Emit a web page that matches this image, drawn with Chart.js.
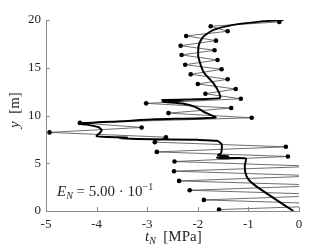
<!DOCTYPE html>
<html>
<head>
<meta charset="utf-8">
<script src="https://cdn.jsdelivr.net/npm/chart.js@4.4.1/dist/chart.umd.min.js"></script>
<style>
  body { margin: 0; background: #fff; }
  canvas { display: block; }
</style>
</head>
<body>
<canvas id="chart" width="332" height="249"></canvas>
<script>
// element traction values (dots + thin zigzag)
const zigY = [0.15, 0.65, 1.16, 1.68, 2.17, 2.68, 3.15, 3.68, 4.17, 4.68,
    5.18, 5.71, 6.19, 6.72, 7.21, 7.73, 8.23, 8.75, 9.23, 9.76,
    10.25, 10.78, 11.27, 11.75, 12.28, 12.77, 13.3, 13.79, 14.31, 14.84,
    15.32, 15.81, 16.34, 16.83, 17.31, 17.84, 18.33, 18.82, 19.35, 19.8];
const zigT = [-1.58, 1.2, -1.88, 0.85, -2.16, 0.6, -2.37, 0.42, -2.47, 0.35,
    -2.46, -0.22, -2.81, -0.26, -2.85, -2.63, -4.93, -3.11, -4.33, -0.935,
    -2.58, -1.34, -3.02, -1.15, -1.85, -1.25, -2.0, -1.41, -2.14, -1.53,
    -2.25, -1.61, -2.32, -1.67, -2.34, -1.64, -2.23, -1.41, -1.745, -0.39];

// smoothed traction (thick curve)
const curveY = [0.0, 1.35, 2.6, 3.3, 4.0, 4.8, 5.5, 5.53, 5.6, 5.72, 5.85, 6.0, 6.3, 7.0, 7.35, 7.45,
    7.55, 7.65, 7.7, 7.75, 7.85, 8.2, 8.5, 8.8, 9.05, 9.15, 9.4, 9.6, 9.8,
    10.3, 10.9, 11.25, 11.45, 11.55, 11.62, 11.7, 11.85, 12.4, 13.37, 14.59,
    16.16, 17.39, 18.26, 18.96, 19.49, 19.83, 20.0];
const curveT = [-0.11, -0.5, -0.85, -1.0, -1.06, -1.07, -1.05, -1.45, -1.62, -1.4, -1.6, -1.55, -1.53, -1.53, -1.62, -2.0,
    -3.2, -3.55, -3.4, -3.77, -4.0, -3.93, -3.9, -3.97, -4.2, -4.35, -3.5, -2.85, -1.65,
    -1.85, -2.05, -2.3, -2.7, -2.3, -2.7, -2.0, -1.56, -1.58, -1.69, -1.89,
    -1.99, -1.98, -1.89, -1.69, -1.30, -0.77, -0.31];

const xTicks = [-5, -4, -3, -2, -1, 0];
const yTicks = [0, 5, 10, 15, 20];

const serif = '"Liberation Serif", "DejaVu Serif", serif';
const axisColor = '#8a8a8a';
const textColor = '#262626';

function toPoints(xs, ys) {
    return xs.map((x, i) => ({ x: x, y: ys[i] }));
}

// draws runs of text: [text, size, italic, dy]
function drawRuns(ctx, runs, x, y) {
    runs.forEach(r => {
        ctx.font = (r[2] ? 'italic ' : '') + r[1] + 'px ' + serif;
        ctx.fillText(r[0], x, y + r[3]);
        x += ctx.measureText(r[0]).width;
    });
}

const decorations = {
    id: 'decorations',
    afterDraw(chart) {
        const ctx = chart.ctx;
        const xs = chart.scales.x;
        const ys = chart.scales.y;
        const area = chart.chartArea;
        ctx.save();
        // inward ticks
        ctx.strokeStyle = axisColor;
        ctx.lineWidth = 1;
        ctx.beginPath();
        xTicks.forEach(v => {
            const px = Math.round(xs.getPixelForValue(v)) + 0.5;
            ctx.moveTo(px, area.bottom);
            ctx.lineTo(px, area.bottom - 4);
        });
        yTicks.forEach(v => {
            const py = Math.round(ys.getPixelForValue(v)) + 0.5;
            ctx.moveTo(area.left, py);
            ctx.lineTo(area.left + 4, py);
        });
        ctx.stroke();

        ctx.fillStyle = textColor;
        ctx.textBaseline = 'alphabetic';
        ctx.textAlign = 'left';

        // annotation
        drawRuns(ctx, [
            ['E', 15, true, 0],
            ['N', 10, true, 3],
            [' = 5.00 \u00b7 10', 15, false, 0],
            ['\u22121', 10, false, -6]
        ], 57, 196);

        // x axis title
        drawRuns(ctx, [
            ['t', 15, true, 0],
            ['N', 10, true, 3],
            ['  [MPa]', 15, false, 0]
        ], 145, 241);

        // y axis title
        ctx.translate(19, 128);
        ctx.rotate(-Math.PI / 2);
        drawRuns(ctx, [
            ['y', 15, true, 0],
            ['  [m]', 15, false, 0]
        ], 0, 0);
        ctx.restore();
    }
};

const chart = new Chart(document.getElementById('chart'), {
    type: 'line',
    data: {
        datasets: [{
            data: toPoints(curveT, curveY),
            borderColor: '#000',
            borderWidth: 2,
            pointRadius: 0,
            tension: 0.2
        }, {
            data: toPoints(zigT, zigY),
            borderColor: '#4a4a4a',
            borderWidth: 0.8,
            pointRadius: 2.3,
            pointBackgroundColor: '#000',
            pointBorderWidth: 0,
            tension: 0
        }]
    },
    plugins: [decorations],
    options: {
        responsive: false,
        animation: false,
        devicePixelRatio: 1,
        layout: { padding: { top: 20, right: 33, left: 0, bottom: 0 } },
        plugins: { legend: { display: false }, tooltip: { enabled: false } },
        scales: {
            x: {
                type: 'linear',
                min: -5,
                max: 0,
                afterFit(scale) { scale.height = 38; },
                afterBuildTicks(scale) { scale.ticks = xTicks.map(v => ({ value: v })); },
                grid: { drawOnChartArea: false, drawTicks: false },
                border: { color: axisColor, width: 1 },
                ticks: {
                    padding: 6,
                    color: textColor,
                    font: { family: serif, size: 13 },
                    callback: v => String(v)
                }
            },
            y: {
                type: 'linear',
                min: 0,
                max: 20,
                afterFit(scale) { scale.width = 46; },
                afterBuildTicks(scale) { scale.ticks = yTicks.map(v => ({ value: v })); },
                grid: { drawOnChartArea: false, drawTicks: false },
                border: { color: axisColor, width: 1 },
                ticks: {
                    padding: 5,
                    color: textColor,
                    font: { family: serif, size: 13 },
                    callback: v => String(v)
                }
            }
        }
    }
});
</script>
</body>
</html>
